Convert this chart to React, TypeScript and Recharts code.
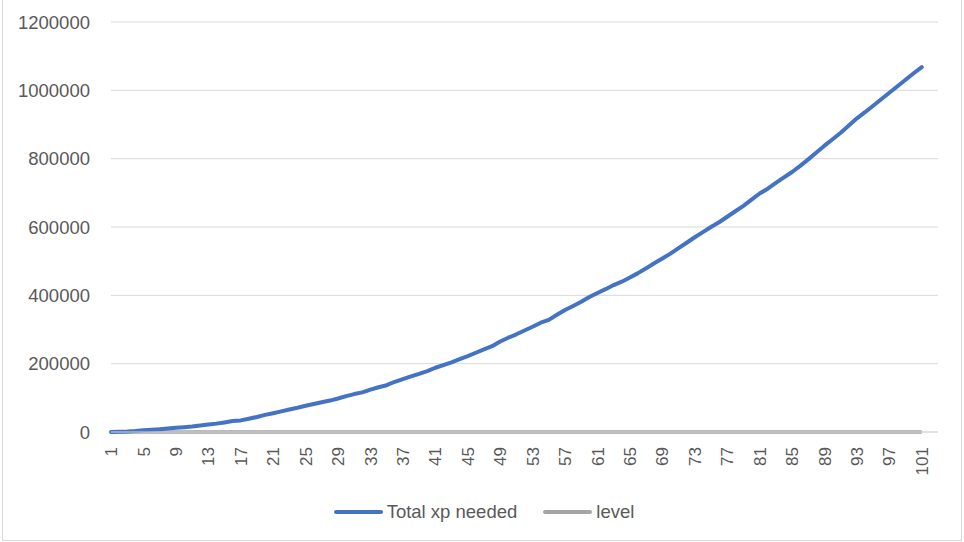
import React from "react";
import { LineChart, Line, XAxis, YAxis, CartesianGrid, Legend } from "recharts";

// category labels (two trailing empty slots, like the source sheet)
const levels = [
  "1", "2", "3", "4", "5", "6", "7", "8", "9", "10",
  "11", "12", "13", "14", "15", "16", "17", "18", "19", "20",
  "21", "22", "23", "24", "25", "26", "27", "28", "29", "30",
  "31", "32", "33", "34", "35", "36", "37", "38", "39", "40",
  "41", "42", "43", "44", "45", "46", "47", "48", "49", "50",
  "51", "52", "53", "54", "55", "56", "57", "58", "59", "60",
  "61", "62", "63", "64", "65", "66", "67", "68", "69", "70",
  "71", "72", "73", "74", "75", "76", "77", "78", "79", "80",
  "81", "82", "83", "84", "85", "86", "87", "88", "89", "90",
  "91", "92", "93", "94", "95", "96", "97", "98", "99", "100",
  "101", "102", "103",
];

const totalXp = [
  0, 800, 1600, 3000, 5000, 6500, 8000, 10000, 12500, 14000,
  16000, 19000, 22000, 24500, 28000, 32000, 34000, 39000, 44000, 50000,
  55000, 60500, 66000, 71000, 77000, 82000, 87000, 92000, 98000, 105000,
  111000, 116000, 124000, 131000, 137000, 147000, 155000, 163000, 170000, 178000,
  188000, 196000, 204000, 213000, 222000, 232000, 242000, 251000, 265000, 276000,
  286000, 297000, 308000, 320000, 328000, 343000, 357000, 369000, 381000, 395000,
  407000, 418000, 430000, 440000, 452000, 465000, 479000, 494000, 508000, 522000,
  538000, 554000, 570000, 585000, 600000, 614000, 630000, 646000, 662000, 680000,
  698000, 712000, 729000, 745000, 761000, 779000, 798000, 818000, 838000, 857000,
  876000, 897000, 918000, 936000, 955000, 974000, 993000, 1012000, 1031000, 1050000,
  1068000, null, null,
];

const levelValues = [
  1, 2, 3, 4, 5, 6, 7, 8, 9, 10,
  11, 12, 13, 14, 15, 16, 17, 18, 19, 20,
  21, 22, 23, 24, 25, 26, 27, 28, 29, 30,
  31, 32, 33, 34, 35, 36, 37, 38, 39, 40,
  41, 42, 43, 44, 45, 46, 47, 48, 49, 50,
  51, 52, 53, 54, 55, 56, 57, 58, 59, 60,
  61, 62, 63, 64, 65, 66, 67, 68, 69, 70,
  71, 72, 73, 74, 75, 76, 77, 78, 79, 80,
  81, 82, 83, 84, 85, 86, 87, 88, 89, 90,
  91, 92, 93, 94, 95, 96, 97, 98, 99, 100,
  101, null, null,
];

const yTicks = [0, 200000, 400000, 600000, 800000, 1000000, 1200000];

const data = levels.map((lvl, i) => ({
  lvl,
  xp: totalXp[i],
  level: levelValues[i],
}));

const FONT = "'Liberation Sans', Arial, sans-serif";
const TEXT = "#595959";
const BLUE = "#4472C4";
const GRAY = "#A5A5A5";

function XTick(props: any) {
  const { x, y, payload } = props;
  return (
    <g transform={`translate(${x},${y})`}>
      <text
        x={-15}
        y={0}
        dy="0.36em"
        textAnchor="end"
        transform="rotate(-90)"
        fill={TEXT}
        fontSize={17}
        fontFamily={FONT}
      >
        {payload.value}
      </text>
    </g>
  );
}

function LegendBox() {
  const item = (color: string, label: string) => (
    <div style={{ display: "flex", alignItems: "center", marginRight: 26 }}>
      <div style={{ width: 49, height: 4, background: color, borderRadius: 2, marginRight: 4 }} />
      <span style={{ fontSize: 18.5, color: TEXT, fontFamily: FONT }}>{label}</span>
    </div>
  );
  return (
    <div style={{ display: "flex", justifyContent: "center", alignItems: "center", height: 30, paddingLeft: 46 }}>
      {item(BLUE, "Total xp needed")}
      {item(GRAY, "level")}
    </div>
  );
}

export default function App() {
  return (
    <div style={{ position: "absolute", left: 0, top: 0, width: 964, height: 542, background: "#fff" }}>
      <div
        style={{
          position: "absolute",
          left: 2,
          top: -1,
          width: 958,
          height: 540,
          border: "1px solid #D9D9D9",
        }}
      />
      <LineChart
        width={964}
        height={542}
        data={data}
        margin={{ top: 22, right: 26, left: 10, bottom: 15 }}
      >
        <CartesianGrid vertical={false} stroke="#D9D9D9" strokeWidth={1} />
        <XAxis
          dataKey="lvl"
          interval={3}
          height={65}
          tickLine={false}
          tickSize={0}
          tickMargin={0}
          axisLine={{ stroke: "#D9D9D9" }}
          tick={<XTick />}
        />
        <YAxis
          width={101}
          domain={[0, 1200000]}
          ticks={yTicks}
          axisLine={false}
          tickLine={false}
          tickSize={0}
          tickMargin={21}
          tick={{ fill: TEXT, fontSize: 18.5, fontFamily: FONT }}
        />
        <Legend verticalAlign="bottom" content={<LegendBox />} />
        <Line
          type="linear"
          dataKey="level"
          stroke={GRAY}
          strokeWidth={3.5}
          dot={false}
          isAnimationActive={false}
        />
        <Line
          type="linear"
          dataKey="xp"
          stroke={BLUE}
          strokeWidth={4}
          strokeLinecap="round"
          strokeLinejoin="round"
          dot={false}
          isAnimationActive={false}
        />
      </LineChart>
    </div>
  );
}
